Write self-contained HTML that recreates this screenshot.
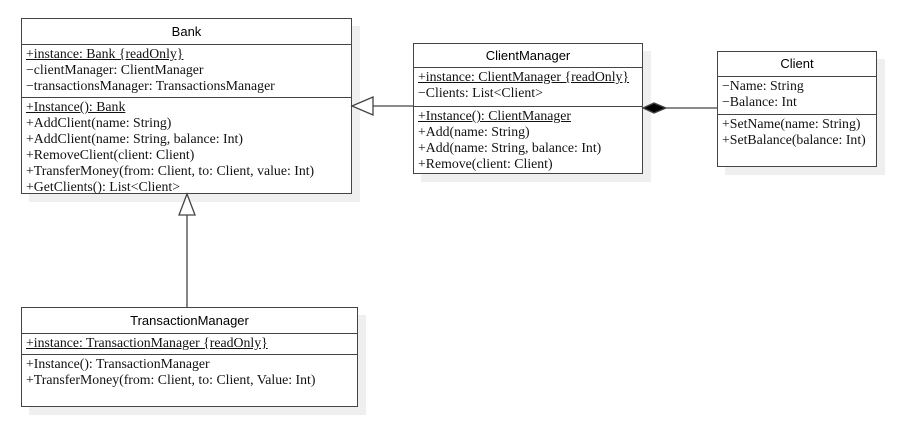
<!DOCTYPE html>
<html><head><meta charset="utf-8"><style>
body{margin:0;width:907px;height:430px;background:#fff;position:relative;overflow:hidden;font-family:"Liberation Serif",serif;}
.b{position:absolute;background:#fff;border:1px solid #444;box-sizing:border-box;box-shadow:8px 8px 0 #efefef;}
.h{font-family:"Liberation Sans",sans-serif;font-size:13px;text-align:center;border-bottom:1px solid #444;box-sizing:border-box;color:#000;}
.s{border-bottom:1px solid #444;box-sizing:border-box;padding:1px 0 0 4px;font-size:13.8px;line-height:16px;white-space:nowrap;color:#111;}
.s.l{border-bottom:none}
u{text-decoration:underline}
svg{position:absolute;left:0;top:0}
</style></head><body>
<div class="b" style="left:21px;top:18px;width:331px;height:176px">
<div class="h" style="height:26px;line-height:25px">Bank</div>
<div class="s" style="height:53px"><u>+instance: Bank {readOnly}</u><br>−clientManager: ClientManager<br>−transactionsManager: TransactionsManager</div>
<div class="s l"><u>+Instance(): Bank</u><br>+AddClient(name: String)<br>+AddClient(name: String, balance: Int)<br>+RemoveClient(client: Client)<br>+TransferMoney(from: Client, to: Client, value: Int)<br>+GetClients(): List&lt;Client&gt;</div>
</div>
<div class="b" style="left:413px;top:43px;width:230px;height:131px">
<div class="h" style="height:24px;line-height:23px">ClientManager</div>
<div class="s" style="height:39px"><u>+instance: ClientManager {readOnly}</u><br>−Clients: List&lt;Client&gt;</div>
<div class="s l"><u>+Instance(): ClientManager</u><br>+Add(name: String)<br>+Add(name: String, balance: Int)<br>+Remove(client: Client)</div>
</div>
<div class="b" style="left:717px;top:51px;width:160px;height:116px">
<div class="h" style="height:25px;line-height:24px">Client</div>
<div class="s" style="height:38px">−Name: String<br>−Balance: Int</div>
<div class="s l">+SetName(name: String)<br>+SetBalance(balance: Int)</div>
</div>
<div class="b" style="left:21px;top:307px;width:337px;height:100px">
<div class="h" style="height:26px;line-height:25px">TransactionManager</div>
<div class="s" style="height:21px"><u>+instance: TransactionManager {readOnly}</u></div>
<div class="s l">+Instance(): TransactionManager<br>+TransferMoney(from: Client, to: Client, Value: Int)</div>
</div>
<svg width="907" height="430">
<g stroke="#444" stroke-width="1.3" fill="#fff">
<line x1="373" y1="106" x2="413" y2="106"/>
<polygon points="352,106 373,97 373,115"/>
<line x1="187" y1="215" x2="187" y2="307"/>
<polygon points="187,194 179,215 195,215"/>
<line x1="666" y1="108" x2="717" y2="108"/>
<polygon points="643,108 654,103 666,108 654,113" fill="#000"/>
</g>
</svg>
</body></html>
